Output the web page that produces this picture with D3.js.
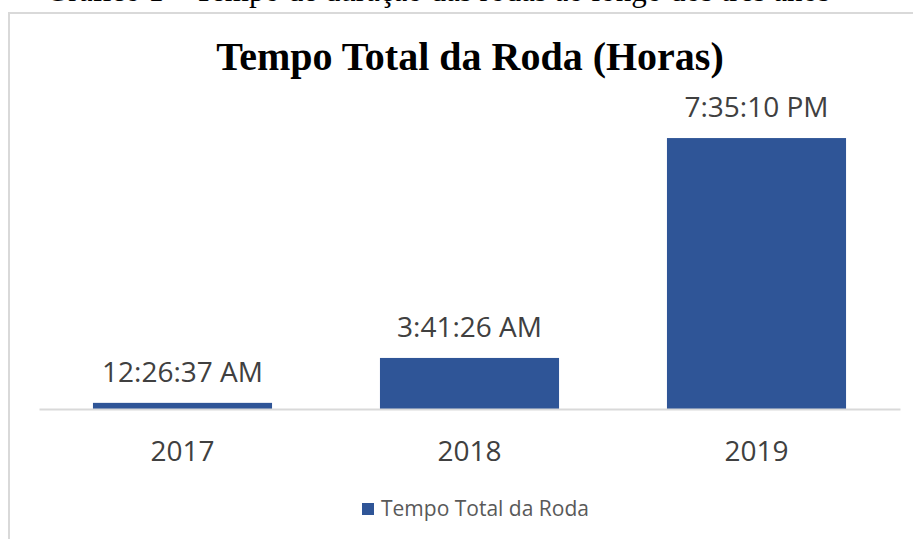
<!DOCTYPE html>
<html>
<head>
<meta charset="utf-8">
<script src="https://cdn.jsdelivr.net/npm/d3@7"></script>
<style>
  body { margin: 0; background: #fff; }
  svg { display: block; }
</style>
</head>
<body>
<script>
// dados: duração total (segundos) por ano
var years = ["2017", "2018", "2019"];
var seconds = [1597, 13286, 70510];
var seriesName = "Tempo Total da Roda";
var chartTitle = "Tempo Total da Roda (Horas)";
var caption = "Gráfico 1 – Tempo de duração das rodas ao longo dos três anos";

var width = 913, height = 539;
var baseY = 409;

var svg = d3.select("body").append("svg")
    .attr("width", width).attr("height", height);

// legenda da figura (cortada no topo, como na imagem original)
svg.append("text")
    .attr("x", 438).attr("y", 1)
    .attr("text-anchor", "middle")
    .style("font-family", "Liberation Serif, Times New Roman, serif")
    .style("font-size", "31px")
    .attr("fill", "#000")
    .text(caption);

// borda do gráfico
svg.append("rect")
    .attr("x", 9).attr("y", 13)
    .attr("width", 950).attr("height", 600)
    .attr("fill", "none")
    .attr("stroke", "#d9d9d9")
    .attr("stroke-width", 2);

svg.append("text")
    .attr("x", 470).attr("y", 70)
    .attr("text-anchor", "middle")
    .style("font-family", "Liberation Serif, Times New Roman, serif")
    .style("font-weight", "bold")
    .style("font-size", "40px")
    .attr("fill", "#000")
    .text(chartTitle);

var x = d3.scaleBand()
    .domain(years)
    .range([39, 900])
    .paddingInner(0.376)
    .paddingOuter(0.188);

var y = d3.scaleLinear()
    .domain([0, 86400])
    .range([baseY, baseY - 332]);

var fmt = d3.utcFormat("%-I:%M:%S %p");
var data = years.map((d, i) => ({ year: d, s: seconds[i] }));

svg.selectAll("rect.bar")
    .data(data)
    .enter().append("rect")
    .attr("class", "bar")
    .attr("x", d => x(d.year))
    .attr("width", x.bandwidth())
    .attr("y", d => y(d.s))
    .attr("height", d => baseY - y(d.s))
    .attr("fill", "#2f5597");

svg.selectAll("text.lbl")
    .data(data)
    .enter().append("text")
    .attr("class", "lbl")
    .attr("x", d => x(d.year) + x.bandwidth() / 2)
    .attr("y", d => y(d.s) - 21)
    .attr("text-anchor", "middle")
    .style("font-family", "Open Sans, sans-serif")
    .style("font-size", "28px")
    .attr("fill", "#404040")
    .text(d => fmt(new Date(d.s * 1000)));

var xAxis = g => g
    .attr("transform", "translate(0," + baseY + ")")
    .call(d3.axisBottom(x).tickSize(0).tickPadding(32))
    .call(g => g.select(".domain").attr("stroke", "#d9d9d9").attr("stroke-width", 2))
    .call(g => g.selectAll("text")
        .style("font-family", "Open Sans, sans-serif")
        .style("font-size", "28px")
        .attr("fill", "#404040"));

svg.append("g").call(xAxis);

// legenda
var leg = svg.append("g").attr("transform", "translate(362,503)");
leg.append("rect").attr("width", 12).attr("height", 12).attr("fill", "#2f5597");
leg.append("text")
    .attr("x", 19).attr("y", 13)
    .style("font-family", "Open Sans, sans-serif")
    .style("font-size", "21px")
    .attr("fill", "#595959")
    .text(seriesName);
</script>
</body>
</html>
